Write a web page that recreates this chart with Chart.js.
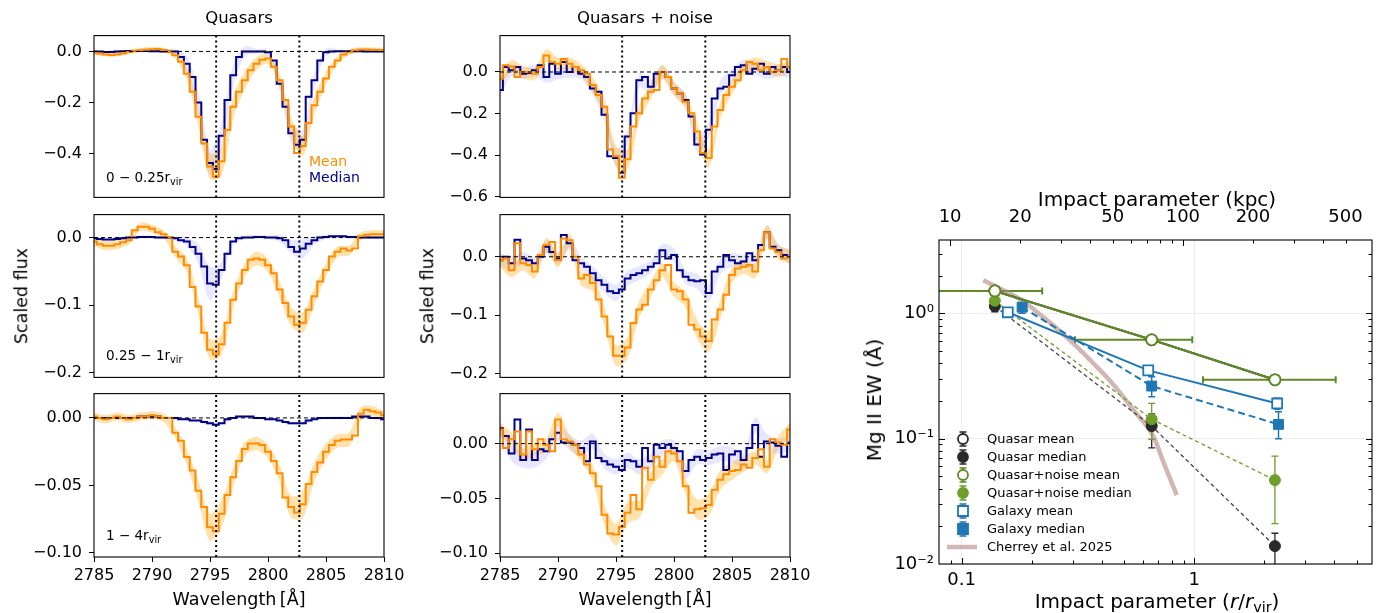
<!DOCTYPE html>
<html>
<head>
<meta charset="utf-8">
<script src="https://cdn.jsdelivr.net/npm/chart.js@4.4.1/dist/chart.umd.min.js"></script>
<style>
  body { margin: 0; background: #fff; width: 1395px; height: 613px; position: relative; overflow: hidden; font-family: 'DejaVu Sans', sans-serif; }
  canvas { position: absolute; }
  .lbl { position: absolute; color: #000; white-space: nowrap; line-height: 1; }
  .lbl sub { font-size: 0.72em; vertical-align: -0.3em; line-height: 0; }
</style>
</head>
<body>
<script>
// --- wavelength grid (Å) ---
const wave = [2785, 2785.5, 2786, 2786.5, 2787, 2787.5, 2788, 2788.5, 2789, 2789.5, 2790, 2790.5, 2791, 2791.5,
  2792, 2792.5, 2793, 2793.5, 2794, 2794.5, 2795, 2795.5, 2796, 2796.5, 2797, 2797.5, 2798, 2798.5, 2799, 2799.5,
  2800, 2800.5, 2801, 2801.5, 2802, 2802.5, 2803, 2803.5, 2804, 2804.5, 2805, 2805.5, 2806, 2806.5, 2807, 2807.5,
  2808, 2808.5, 2809, 2809.5, 2810];
const waveBand = [2785, 2786, 2787, 2788, 2789, 2790, 2791, 2792, 2793, 2794, 2795, 2796, 2797, 2798, 2799, 2800,
  2801, 2802, 2803, 2804, 2805, 2806, 2807, 2808, 2809, 2810];
const mgiiLines = [2795.53, 2802.70];

// --- Quasars, 0-0.25 rvir ---
const qMeanA = [-0.005, -0.008, -0.012, -0.014, -0.012, -0.008, -0.002, 0.003, 0.005, 0.007, 0.009, 0.01, 0.006, 0.0,
  -0.015, -0.04, -0.087, -0.158, -0.255, -0.36, -0.45, -0.49, -0.43, -0.307, -0.216, -0.158, -0.113, -0.074, -0.048, -0.032,
  -0.028, -0.06, -0.113, -0.19, -0.294, -0.397, -0.37, -0.28, -0.21, -0.158, -0.106, -0.06, -0.035, -0.012, -0.003, 0.005,
  0.008, 0.008, 0.007, 0.006, 0.005];
const qMedA = [0.0, 0.0, -0.002, -0.002, 0.0, 0.001, 0.002, 0.002, 0.002, 0.002, 0.001, 0.001, 0.0, 0.0,
  0.0, -0.022, -0.048, -0.1, -0.2, -0.345, -0.436, -0.46, -0.33, -0.19, -0.093, -0.022, 0.0, 0.0, 0.0, 0.0,
  -0.003, -0.035, -0.126, -0.216, -0.32, -0.365, -0.345, -0.177, -0.113, -0.035, -0.003, 0.0, 0.001, 0.001, 0.001, 0.001,
  0.001, 0.0, 0.0, 0.0, 0.0];
const qMeanErrA = [0.008, 0.008, 0.008, 0.008, 0.008, 0.008, 0.008, 0.012, 0.025, 0.04, 0.05, 0.055, 0.045, 0.035, 0.025, 0.02,
  0.025, 0.035, 0.04, 0.035, 0.025, 0.015, 0.01, 0.008, 0.008, 0.008];
const qMedErrA = [0.005, 0.005, 0.005, 0.005, 0.005, 0.005, 0.005, 0.01, 0.03, 0.045, 0.05, 0.05, 0.04, 0.02, 0.01, 0.01,
  0.025, 0.04, 0.04, 0.03, 0.015, 0.008, 0.005, 0.005, 0.005, 0.005];

// --- Quasars, 0.25-1 rvir ---
const qMeanB = [-0.006, -0.01, -0.012, -0.012, -0.01, -0.007, -0.004, 0.011, 0.016, 0.016, 0.013, 0.008, 0.005, 0.001,
  -0.021, -0.028, -0.041, -0.073, -0.102, -0.141, -0.166, -0.173, -0.158, -0.126, -0.092, -0.068, -0.048, -0.033, -0.031, -0.033,
  -0.041, -0.053, -0.077, -0.097, -0.117, -0.129, -0.126, -0.107, -0.087, -0.065, -0.048, -0.028, -0.021, -0.016, -0.019, -0.016,
  0.002, 0.004, 0.005, 0.005, 0.005];
const qMedB = [-0.001, -0.002, -0.003, -0.003, -0.002, -0.001, 0.0, 0.0, 0.001, 0.001, 0.001, 0.0, 0.0, 0.0,
  -0.001, -0.004, -0.006, -0.014, -0.024, -0.043, -0.068, -0.07, -0.048, -0.024, -0.006, -0.001, 0.0, 0.0, 0.001, 0.001,
  0.0, 0.0, -0.001, -0.004, -0.014, -0.021, -0.016, -0.009, -0.004, 0.0, 0.001, 0.002, 0.002, 0.002, 0.001, 0.001,
  0.0, 0.0, 0.0, 0.0, 0.0];
const qMeanErrB = [0.006, 0.007, 0.007, 0.006, 0.006, 0.006, 0.006, 0.008, 0.01, 0.013, 0.015, 0.015, 0.012, 0.01, 0.01, 0.01,
  0.012, 0.014, 0.015, 0.013, 0.01, 0.008, 0.007, 0.006, 0.006, 0.006];
const qMedErrB = [0.002, 0.002, 0.002, 0.002, 0.002, 0.002, 0.002, 0.003, 0.006, 0.015, 0.025, 0.012, 0.004, 0.003, 0.003, 0.003,
  0.005, 0.01, 0.015, 0.006, 0.003, 0.002, 0.002, 0.002, 0.002, 0.002];

// --- Quasars, 1-4 rvir ---
const qMeanC = [0.001, 0.0, -0.001, 0.0, 0.001, 0.0, -0.001, 0.0, 0.001, 0.001, 0.002, 0.001, 0.0, 0.0,
  -0.011, -0.017, -0.029, -0.039, -0.054, -0.066, -0.081, -0.084, -0.071, -0.057, -0.044, -0.032, -0.023, -0.019, -0.019, -0.02,
  -0.025, -0.032, -0.041, -0.059, -0.066, -0.07, -0.064, -0.049, -0.04, -0.033, -0.025, -0.02, -0.017, -0.016, -0.016, -0.013,
  0.003, 0.006, 0.005, 0.004, 0.002];
const qMedC = [0.0, 0.0, 0.0, 0.0, 0.0, 0.0, 0.0, 0.0, 0.001, 0.001, 0.001, 0.001, 0.0, 0.0,
  0.0, -0.001, -0.001, -0.002, -0.002, -0.003, -0.004, -0.005, -0.004, -0.001, 0.0, 0.001, 0.001, 0.001, 0.0, 0.0,
  -0.001, -0.001, -0.002, -0.003, -0.004, -0.004, -0.004, -0.002, -0.001, 0.0, 0.0, 0.0, 0.0, 0.0, 0.0, 0.001,
  0.001, 0.001, 0.0, 0.0, -0.001];
const qMeanErrC = [0.003, 0.003, 0.003, 0.003, 0.003, 0.003, 0.003, 0.004, 0.006, 0.008, 0.01, 0.01, 0.007, 0.005, 0.005, 0.005,
  0.006, 0.008, 0.01, 0.007, 0.006, 0.005, 0.005, 0.005, 0.004, 0.003];
const qMedErrC = [0.001, 0.001, 0.001, 0.001, 0.001, 0.001, 0.001, 0.001, 0.001, 0.001, 0.0015, 0.001, 0.001, 0.001, 0.001, 0.001,
  0.001, 0.001, 0.0015, 0.001, 0.001, 0.001, 0.001, 0.001, 0.001, 0.001];

// --- Quasars + noise, 0-0.25 rvir ---
const nMeanA = [-0.032, 0.032, 0.027, -0.024, 0.0, 0.0, -0.008, 0.024, 0.079, 0.048, 0.04, 0.063, 0.04, 0.024,
  0.008, -0.008, -0.063, -0.111, -0.167, -0.373, -0.405, -0.508, -0.42, -0.262, -0.198, -0.127, -0.095, -0.087, 0.0, -0.024,
  -0.079, -0.103, -0.143, -0.198, -0.286, -0.389, -0.413, -0.262, -0.183, -0.111, -0.071, -0.04, 0.008, 0.048, 0.04, 0.008,
  0.024, 0.0, 0.008, 0.063, 0.024];
const nMedA = [-0.087, 0.024, 0.008, 0.024, -0.008, -0.005, 0.008, 0.032, -0.024, 0.04, -0.008, 0.048, 0.0, 0.024,
  -0.008, -0.024, -0.079, -0.095, -0.206, -0.405, -0.413, -0.484, -0.31, -0.198, -0.04, -0.024, -0.071, -0.008, 0.0, -0.024,
  -0.079, -0.103, -0.135, -0.214, -0.349, -0.397, -0.278, -0.127, -0.079, -0.071, -0.016, 0.024, 0.032, -0.008, 0.016, 0.04,
  -0.008, 0.024, 0.008, 0.024, 0.0];
const nMeanErrA = [0.03, 0.03, 0.03, 0.03, 0.03, 0.03, 0.03, 0.03, 0.035, 0.04, 0.05, 0.05, 0.04, 0.035, 0.035, 0.035,
  0.035, 0.04, 0.045, 0.04, 0.035, 0.03, 0.03, 0.03, 0.03, 0.03];
const nMedErrA = [0.028, 0.028, 0.028, 0.028, 0.028, 0.028, 0.028, 0.028, 0.03, 0.035, 0.04, 0.04, 0.035, 0.03, 0.03, 0.03,
  0.03, 0.035, 0.04, 0.035, 0.03, 0.028, 0.028, 0.028, 0.028, 0.028];

// --- Quasars + noise, 0.25-1 rvir ---
const nMeanB = [-0.006, -0.003, -0.023, 0.023, -0.011, -0.014, -0.025, 0.003, 0.02, 0.025, -0.006, 0.031, 0.028, 0.0,
  -0.037, -0.031, -0.045, -0.073, -0.102, -0.136, -0.169, -0.169, -0.155, -0.113, -0.09, -0.082, -0.056, -0.04, -0.023, -0.014,
  -0.056, -0.059, -0.073, -0.116, -0.124, -0.136, -0.144, -0.107, -0.09, -0.065, -0.031, -0.02, -0.017, -0.014, -0.025, 0.011,
  0.042, 0.014, 0.008, -0.003, 0.0];
const nMedB = [-0.006, 0.0, -0.011, 0.029, -0.003, -0.006, -0.011, 0.0, 0.017, 0.008, -0.003, 0.037, 0.023, -0.006,
  -0.011, -0.017, -0.028, -0.04, -0.048, -0.059, -0.062, -0.056, -0.037, -0.031, -0.028, -0.023, -0.017, -0.011, 0.011, -0.003,
  0.003, -0.023, -0.034, -0.04, -0.042, -0.04, -0.062, -0.025, -0.017, 0.003, -0.006, -0.011, -0.008, 0.006, -0.006, 0.02,
  0.042, 0.017, 0.011, 0.003, 0.0];
const nMeanErrB = [0.012, 0.012, 0.012, 0.012, 0.012, 0.012, 0.012, 0.012, 0.014, 0.016, 0.018, 0.018, 0.015, 0.013, 0.012, 0.012,
  0.013, 0.016, 0.018, 0.016, 0.013, 0.012, 0.012, 0.012, 0.012, 0.012];
const nMedErrB = [0.011, 0.011, 0.011, 0.011, 0.011, 0.011, 0.011, 0.011, 0.012, 0.013, 0.014, 0.013, 0.012, 0.011, 0.011, 0.011,
  0.012, 0.013, 0.014, 0.013, 0.012, 0.011, 0.011, 0.011, 0.011, 0.011];

// --- Quasars + noise, 1-4 rvir ---
const nMeanC = [0.013, -0.004, 0.004, 0.011, -0.01, 0.011, -0.005, 0.004, -0.001, -0.007, 0.022, 0.004, 0.002, -0.001,
  -0.01, -0.019, -0.027, -0.039, -0.065, -0.082, -0.083, -0.076, -0.063, -0.047, -0.06, -0.022, -0.033, -0.012, -0.021, -0.007,
  -0.009, -0.016, -0.039, -0.063, -0.06, -0.059, -0.056, -0.042, -0.033, -0.028, -0.025, -0.024, -0.019, -0.022, -0.013, -0.005,
  -0.021, 0.004, 0.001, -0.001, 0.013];
const nMedC = [0.014, 0.007, -0.009, 0.022, -0.015, 0.013, -0.015, -0.005, -0.007, 0.004, 0.01, 0.001, 0.001, -0.001,
  -0.004, -0.016, 0.002, -0.013, -0.016, -0.019, -0.021, -0.024, -0.015, -0.016, -0.021, -0.004, -0.016, -0.001, -0.004, -0.001,
  -0.004, -0.007, -0.025, -0.015, -0.012, -0.015, -0.013, -0.01, -0.009, -0.024, -0.01, -0.007, -0.015, -0.004, 0.017, -0.012,
  0.002, 0.001, -0.002, -0.012, 0.001];
const nMeanErrC = [0.006, 0.006, 0.006, 0.006, 0.006, 0.006, 0.006, 0.006, 0.007, 0.009, 0.01, 0.01, 0.008, 0.007, 0.007, 0.007,
  0.007, 0.009, 0.01, 0.009, 0.008, 0.007, 0.006, 0.006, 0.006, 0.006];
const nMedErrC = [0.007, 0.007, 0.007, 0.007, 0.007, 0.007, 0.007, 0.007, 0.007, 0.007, 0.007, 0.007, 0.007, 0.007, 0.007, 0.007,
  0.007, 0.007, 0.007, 0.007, 0.007, 0.007, 0.007, 0.007, 0.007, 0.007];

// --- Right panel: Mg II EW vs impact parameter ---
const binR = [0.139, 0.656, 2.22];
const quasarMeanEW = [1.51, 0.615, 0.295];
const quasarMedEW = [1.14, 0.126, 0.0139];
const quasarMedLo = [1.03, 0.0846, 0.009];
const quasarMedHi = [1.24, 0.158, 0.0176];
const noiseMeanEW = [1.51, 0.615, 0.295];
const noiseMeanRLo = [0.01, 0.307, 1.09];
const noiseMeanRHi = [0.222, 0.98, 4.05];
const noiseMedEW = [1.26, 0.143, 0.0467];
const noiseMedLo = [1.17, 0.099, 0.021];
const noiseMedHi = [1.36, 0.191, 0.0727];
const galMeanR = [0.158, 0.634, 2.27];
const galMeanEW = [1.02, 0.351, 0.191];
const galMeanLo = [0.97, 0.33, 0.172];
const galMeanHi = [1.07, 0.372, 0.21];
const galMedR = [0.182, 0.656, 2.3];
const galMedEW = [1.12, 0.263, 0.130];
const galMedLo = [1.0, 0.216, 0.1];
const galMedHi = [1.22, 0.312, 0.164];
const cherreyR = [0.124, 0.146, 0.178, 0.21, 0.248, 0.302, 0.368, 0.449, 0.547, 0.656, 0.737, 0.84];
const cherreyEW = [1.84, 1.58, 1.30, 1.03, 0.80, 0.576, 0.40, 0.27, 0.17, 0.11, 0.065, 0.0355];
const kpcTicks = [10, 20, 50, 100, 200, 500];
const legendLabels = ['Quasar mean', 'Quasar median', 'Quasar+noise mean', 'Quasar+noise median',
  'Galaxy mean', 'Galaxy median', 'Cherrey et al. 2025'];

const FONT = "'DejaVu Sans', sans-serif";
const ORANGE = '#ff8c00';
const NAVY = '#00008b';

// cadre noir autour de la zone de tracé
const framePlugin = {
  id: 'frame',
  afterDraw(chart) {
    const { ctx, chartArea: a } = chart;
    ctx.save();
    ctx.strokeStyle = '#000';
    ctx.lineWidth = 1.1;
    ctx.strokeRect(a.left, a.top, a.right - a.left, a.bottom - a.top);
    ctx.restore();
  }
};

function toXY(xs, ys) {
  return xs.map((x, i) => ({ x: x, y: ys[i] }));
}

function bandData(series, err, sign) {
  return waveBand.map((w, k) => ({ x: w, y: series[wave.indexOf(w)] + sign * err[k] }));
}

function fmtTick(v, digits) {
  return (Math.abs(v) < 1e-9 ? 0 : v).toFixed(digits).replace('-', '\u2212');
}

function makeCanvas(left, top, w, h) {
  const cv = document.createElement('canvas');
  cv.width = w; cv.height = h;
  cv.style.left = left + 'px'; cv.style.top = top + 'px';
  cv.style.width = w + 'px'; cv.style.height = h + 'px';
  document.body.appendChild(cv);
  return cv;
}

const cols = [{ left: 94, canvasLeft: 0 }, { left: 500, canvasLeft: 400 }];
const rows = [{ top: 35, h: 163 }, { top: 214, h: 164 }, { top: 393, h: 164 }];
const PLOT_W = 290;

function spectrumPanel(col, row, isBottom, mean, median, meanErr, medianErr, yMin, yMax, yTicks, digits) {
  // marges assez larges pour que les étiquettes de l'axe y ne réduisent pas la zone de tracé
  const padTop = 16, padRight = 30;
  const yW = col.left - col.canvasLeft;
  const xH = isBottom ? 34 : 0;
  const padBottom = isBottom ? 0 : 16;
  const cv = makeCanvas(col.canvasLeft, row.top - padTop, yW + PLOT_W + padRight, padTop + row.h + xH + padBottom);

  const datasets = [
    { data: [{ x: 2785, y: 0 }, { x: 2810, y: 0 }], borderColor: '#000', borderWidth: 1, borderDash: [4, 3], order: 0 },
    ...mgiiLines.map(w => ({ data: [{ x: w, y: yMin }, { x: w, y: yMax }], borderColor: '#000', borderWidth: 2, borderDash: [2, 3], order: 0 })),
    { data: toXY(wave, mean), borderColor: ORANGE, borderWidth: 2, stepped: 'middle', order: 2 },
    { data: toXY(wave, median), borderColor: NAVY, borderWidth: 2, stepped: 'middle', order: 3 },
    { data: bandData(mean, meanErr, 1), borderWidth: 0, tension: 0.3, order: 10 },
    { data: bandData(mean, meanErr, -1), borderWidth: 0, tension: 0.3, fill: '-1', backgroundColor: 'rgba(255,165,0,0.32)', order: 10 },
    { data: bandData(median, medianErr, 1), borderWidth: 0, tension: 0.3, order: 11 },
    { data: bandData(median, medianErr, -1), borderWidth: 0, tension: 0.3, fill: '-1', backgroundColor: 'rgba(40,40,255,0.11)', order: 11 }
  ];

  new Chart(cv, {
    type: 'line',
    data: { datasets: datasets },
    options: {
      responsive: false,
      animation: false,
      devicePixelRatio: 1,
      elements: { point: { radius: 0 } },
      layout: { padding: { top: padTop, right: padRight, bottom: padBottom, left: 0 } },
      plugins: { legend: { display: false }, tooltip: { enabled: false } },
      scales: {
        x: {
          type: 'linear', min: 2785, max: 2810, display: isBottom,
          afterFit: s => { s.height = xH; },
          ticks: { stepSize: 5, autoSkip: false, maxRotation: 0, color: '#000', padding: 4,
            font: { family: FONT, size: 16 }, callback: v => String(v) },
          grid: { drawOnChartArea: false, drawTicks: true, tickLength: 5, color: '#000' },
          border: { display: false }
        },
        y: {
          min: yMin, max: yMax,
          afterFit: s => { s.width = yW; },
          afterBuildTicks: s => { s.ticks = yTicks.map(v => ({ value: v })); },
          ticks: { color: '#000', padding: 7, font: { family: FONT, size: 16 }, callback: v => fmtTick(v, digits) },
          grid: { drawOnChartArea: false, drawTicks: true, tickLength: 5, color: '#000' },
          border: { display: false }
        }
      }
    },
    plugins: [framePlugin]
  });
}

spectrumPanel(cols[0], rows[0], false, qMeanA, qMedA, qMeanErrA, qMedErrA, -0.571, 0.062, [0, -0.2, -0.4], 1);
spectrumPanel(cols[0], rows[1], false, qMeanB, qMedB, qMeanErrB, qMedErrB, -0.207, 0.034, [0, -0.1, -0.2], 1);
spectrumPanel(cols[0], rows[2], true, qMeanC, qMedC, qMeanErrC, qMedErrC, -0.103, 0.018, [0, -0.05, -0.1], 2);
spectrumPanel(cols[1], rows[0], false, nMeanA, nMedA, nMeanErrA, nMedErrA, -0.603, 0.175, [0, -0.2, -0.4, -0.6], 1);
spectrumPanel(cols[1], rows[1], false, nMeanB, nMedB, nMeanErrB, nMedErrB, -0.206, 0.072, [0, -0.1, -0.2], 1);
spectrumPanel(cols[1], rows[2], true, nMeanC, nMedC, nMeanErrC, nMedErrC, -0.1035, 0.0457, [0, -0.05, -0.1], 2);

// --- Right panel ---
const OLIVE = '#5f8a24';
const OLIVE_LIGHT = '#6f9e2c';
const BLUE = '#1f77b4';
const DARK = '#2a2a2a';
const CHERREY = 'rgba(176,135,128,0.6)';

const errorSets = [
  { color: DARK, x: binR, y: quasarMedEW, yLo: quasarMedLo, yHi: quasarMedHi, w: 1.3 },
  { color: OLIVE_LIGHT, x: binR, y: noiseMedEW, yLo: noiseMedLo, yHi: noiseMedHi, w: 1.3 },
  { color: OLIVE, x: binR, y: noiseMeanEW, xLo: noiseMeanRLo, xHi: noiseMeanRHi, w: 2 },
  { color: BLUE, x: galMeanR, y: galMeanEW, yLo: galMeanLo, yHi: galMeanHi, w: 1.5 },
  { color: BLUE, x: galMedR, y: galMedEW, yLo: galMedLo, yHi: galMedHi, w: 1.5 }
];

const errorBarPlugin = {
  id: 'errorBars',
  beforeDatasetsDraw(chart) {
    const { ctx, chartArea: a, scales } = chart;
    const sx = scales.x, sy = scales.y;
    const cap = 3.5;
    ctx.save();
    ctx.beginPath();
    ctx.rect(a.left, a.top, a.right - a.left, a.bottom - a.top);
    ctx.clip();
    errorSets.forEach(e => {
      ctx.strokeStyle = e.color;
      ctx.lineWidth = e.w;
      e.x.forEach((xv, i) => {
        const px = sx.getPixelForValue(xv), py = sy.getPixelForValue(e.y[i]);
        ctx.beginPath();
        if (e.yLo) {
          const p1 = sy.getPixelForValue(e.yLo[i]), p2 = sy.getPixelForValue(e.yHi[i]);
          ctx.moveTo(px, p1); ctx.lineTo(px, p2);
          ctx.moveTo(px - cap, p1); ctx.lineTo(px + cap, p1);
          ctx.moveTo(px - cap, p2); ctx.lineTo(px + cap, p2);
        }
        if (e.xLo) {
          const q1 = sx.getPixelForValue(e.xLo[i]), q2 = sx.getPixelForValue(e.xHi[i]);
          ctx.moveTo(q1, py); ctx.lineTo(q2, py);
          ctx.moveTo(q1, py - cap); ctx.lineTo(q1, py + cap);
          ctx.moveTo(q2, py - cap); ctx.lineTo(q2, py + cap);
        }
        ctx.stroke();
      });
    });
    ctx.restore();
  }
};

// petits traits de graduation orientés vers l'intérieur, style matplotlib
const rMajor = [0.1, 1];
const rMinor = [0.09, 0.2, 0.3, 0.4, 0.5, 0.6, 0.7, 0.8, 0.9, 2, 3, 4, 5];
const ewMajor = [0.01, 0.1, 1];
const ewMinor = [0.02, 0.03, 0.04, 0.05, 0.06, 0.07, 0.08, 0.09, 0.2, 0.3, 0.4, 0.5, 0.6, 0.7, 0.8, 0.9, 2, 3];
const kpcMajor = [10, 100];
const kpcMinor = [20, 30, 40, 50, 60, 70, 80, 90, 200, 300, 400, 500];

const inwardTicksPlugin = {
  id: 'inwardTicks',
  afterDraw(chart) {
    const { ctx, chartArea: a, scales } = chart;
    ctx.save();
    ctx.strokeStyle = '#000';
    ctx.lineWidth = 1;
    const vtick = (scale, vals, len) => vals.forEach(v => {
      const p = Math.round(scale.getPixelForValue(v)) + 0.5;
      if (p < a.left || p > a.right) return;
      if (scale.id === 'x') { ctx.moveTo(p, a.bottom); ctx.lineTo(p, a.bottom - len); }
      else { ctx.moveTo(p, a.top); ctx.lineTo(p, a.top + len); }
    });
    const htick = (vals, len) => vals.forEach(v => {
      const p = Math.round(scales.y.getPixelForValue(v)) + 0.5;
      if (p < a.top || p > a.bottom) return;
      ctx.moveTo(a.left, p); ctx.lineTo(a.left + len, p);
      ctx.moveTo(a.right, p); ctx.lineTo(a.right - len, p);
    });
    ctx.beginPath();
    vtick(scales.x, rMajor, 6); vtick(scales.x, rMinor, 3.5);
    vtick(scales.x2, kpcMajor, 6); vtick(scales.x2, kpcMinor, 3.5);
    htick(ewMajor, 6); htick(ewMinor, 3.5);
    ctx.stroke();
    ctx.restore();
  }
};

const legendStyles = [
  { color: DARK, shape: 'circle', filled: false },
  { color: DARK, shape: 'circle', filled: true },
  { color: OLIVE, shape: 'circle', filled: false },
  { color: OLIVE_LIGHT, shape: 'circle', filled: true },
  { color: BLUE, shape: 'rect', filled: false },
  { color: BLUE, shape: 'rect', filled: true },
  { color: CHERREY, shape: 'line' }
];

const legendPlugin = {
  id: 'ewLegend',
  afterDraw(chart) {
    const { ctx, chartArea: a } = chart;
    const mx = a.left + 24, tx = a.left + 48, y0 = a.top + 199, dy = 18;
    ctx.save();
    ctx.font = '13px ' + FONT;
    ctx.textBaseline = 'middle';
    legendLabels.forEach((label, i) => {
      const st = legendStyles[i];
      const y = y0 + i * dy;
      if (st.shape === 'line') {
        ctx.strokeStyle = st.color; ctx.lineWidth = 4.5;
        ctx.beginPath(); ctx.moveTo(mx - 16, y); ctx.lineTo(mx + 14, y); ctx.stroke();
      } else {
        ctx.strokeStyle = st.color; ctx.lineWidth = 1.5;
        ctx.beginPath();
        ctx.moveTo(mx, y - 7); ctx.lineTo(mx, y + 7);
        ctx.moveTo(mx - 3.5, y - 7); ctx.lineTo(mx + 3.5, y - 7);
        ctx.moveTo(mx - 3.5, y + 7); ctx.lineTo(mx + 3.5, y + 7);
        ctx.stroke();
        ctx.fillStyle = st.filled ? st.color : '#fff';
        ctx.lineWidth = 1.8;
        ctx.beginPath();
        if (st.shape === 'circle') ctx.arc(mx, y, 5, 0, Math.PI * 2);
        else ctx.rect(mx - 5, y - 5, 10, 10);
        ctx.fill(); ctx.stroke();
      }
      ctx.fillStyle = '#000';
      ctx.fillText(label, tx, y + 1);
    });
    ctx.restore();
  }
};

const R_MIN = 0.08, R_MAX = 5.8, EW_MIN = 0.01, EW_MAX = 3.85, KPC_PER_RVIR = 112;
const supLabels = { 0.01: '10\u207B\u00B2', 0.1: '10\u207B\u00B9', 1: '10\u2070' };

const rightCanvas = makeCanvas(850, 180, 545, 433);
new Chart(rightCanvas, {
  type: 'line',
  data: {
    datasets: [
      { data: toXY(binR, noiseMeanEW), borderColor: OLIVE, borderWidth: 2, pointStyle: 'circle', pointRadius: 5.5,
        pointBackgroundColor: '#fff', pointBorderColor: OLIVE, pointBorderWidth: 1.8, order: 0 },
      { data: toXY(galMeanR, galMeanEW), borderColor: BLUE, borderWidth: 2, pointStyle: 'rect', pointRadius: 7,
        pointBackgroundColor: '#fff', pointBorderColor: BLUE, pointBorderWidth: 1.8, order: 1 },
      { data: toXY(galMedR, galMedEW), borderColor: BLUE, borderWidth: 2, borderDash: [7, 4], pointStyle: 'rect', pointRadius: 7,
        pointBackgroundColor: BLUE, pointBorderColor: BLUE, pointBorderWidth: 1, order: 2 },
      { data: toXY(binR, noiseMedEW), borderColor: OLIVE_LIGHT, borderWidth: 1.3, borderDash: [4, 3], pointStyle: 'circle', pointRadius: 5.5,
        pointBackgroundColor: OLIVE_LIGHT, pointBorderColor: OLIVE_LIGHT, pointBorderWidth: 1, order: 3 },
      { data: toXY(binR, quasarMedEW), borderColor: '#444', borderWidth: 1.3, borderDash: [4, 3], pointStyle: 'circle', pointRadius: 5.5,
        pointBackgroundColor: DARK, pointBorderColor: DARK, pointBorderWidth: 1, order: 4 },
      { data: toXY(binR, quasarMeanEW), borderColor: DARK, borderWidth: 2, pointStyle: 'circle', pointRadius: 5.5,
        pointBackgroundColor: '#fff', pointBorderColor: DARK, pointBorderWidth: 1.8, order: 5 },
      { data: toXY(cherreyR, cherreyEW), borderColor: CHERREY, borderWidth: 4.5, tension: 0.4, pointRadius: 0, order: 9 }
    ]
  },
  options: {
    responsive: false,
    animation: false,
    devicePixelRatio: 1,
    layout: { padding: { top: 0, right: 23, bottom: 0, left: 0 } },
    plugins: { legend: { display: false }, tooltip: { enabled: false } },
    scales: {
      x: {
        type: 'logarithmic', min: R_MIN, max: R_MAX,
        afterFit: s => { s.height = 49; },
        afterBuildTicks: s => { s.ticks = rMajor.map(v => ({ value: v, major: true })); },
        ticks: { color: '#000', padding: 6, autoSkip: false, maxRotation: 0, font: { family: FONT, size: 18 },
          callback: v => String(v) },
        grid: { color: '#ececec', lineWidth: 1, drawTicks: false },
        border: { display: false }
      },
      x2: {
        type: 'logarithmic', axis: 'x', position: 'top', min: R_MIN * KPC_PER_RVIR, max: R_MAX * KPC_PER_RVIR,
        afterFit: s => { s.height = 60; },
        afterBuildTicks: s => { s.ticks = kpcTicks.map(v => ({ value: v, major: true })); },
        ticks: { color: '#000', padding: 12, autoSkip: false, maxRotation: 0, font: { family: FONT, size: 18 },
          callback: v => String(v) },
        grid: { display: false, drawTicks: false },
        border: { display: false }
      },
      y: {
        type: 'logarithmic', min: EW_MIN, max: EW_MAX,
        afterFit: s => { s.width = 89; },
        afterBuildTicks: s => { s.ticks = ewMajor.map(v => ({ value: v, major: true })); },
        ticks: { color: '#000', padding: 5, autoSkip: false, font: { family: FONT, size: 18 },
          callback: v => supLabels[v] || '' },
        grid: { color: '#ececec', lineWidth: 1, drawTicks: false },
        border: { display: false }
      }
    }
  },
  plugins: [errorBarPlugin, inwardTicksPlugin, legendPlugin, framePlugin]
});

// --- texts ---
function addLabel(html, x, y, size, opts) {
  opts = opts || {};
  const d = document.createElement('div');
  d.className = 'lbl';
  d.innerHTML = html;
  d.style.left = x + 'px';
  d.style.top = y + 'px';
  d.style.fontSize = size + 'px';
  if (opts.color) d.style.color = opts.color;
  let tr = opts.left ? 'translate(0,-50%)' : 'translate(-50%,-50%)';
  if (opts.rotate) tr += ' rotate(-90deg)';
  d.style.transform = tr;
  document.body.appendChild(d);
}

addLabel('Quasars', 239, 18, 16.5);
addLabel('Quasars + noise', 645, 18, 16.5);
addLabel('Scaled flux', 22, 296, 17.5, { rotate: true });
addLabel('Scaled flux', 428, 296, 17.5, { rotate: true });
addLabel('Wavelength\u2009[\u00C5]', 239, 600, 17.5);
addLabel('Wavelength\u2009[\u00C5]', 645, 600, 17.5);
addLabel('0 \u2212 0.25r<sub>vir</sub>', 106, 178, 13.5, { left: true });
addLabel('0.25 \u2212 1r<sub>vir</sub>', 106, 356, 13.5, { left: true });
addLabel('1 \u2212 4r<sub>vir</sub>', 106, 536, 13.5, { left: true });
addLabel('Mean', 309, 161, 14, { left: true, color: ORANGE });
addLabel('Median', 309, 177, 14, { left: true, color: NAVY });
addLabel('Impact parameter (kpc)', 1157, 199, 20);
addLabel('Mg II EW (\u00C5)', 874, 400, 20, { rotate: true });
addLabel('Impact parameter (<i>r</i>/<i>r</i><sub>vir</sub>)', 1157, 601, 20);
</script>
</body>
</html>
